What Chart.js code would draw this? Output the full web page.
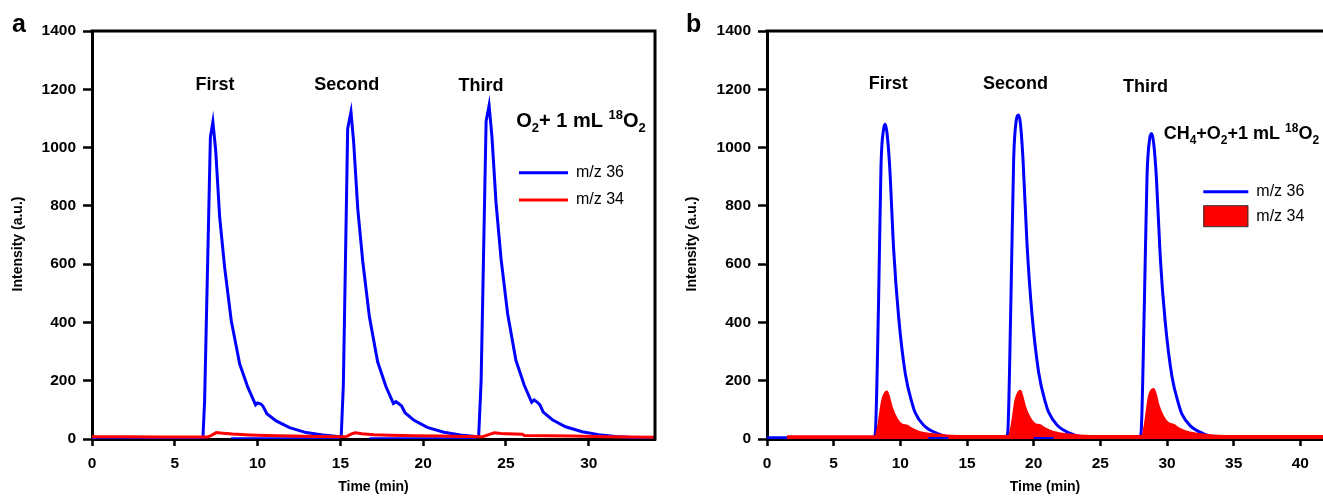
<!DOCTYPE html>
<html>
<head>
<meta charset="utf-8">
<script src="https://cdn.jsdelivr.net/npm/chart.js@4.4.1/dist/chart.umd.min.js"></script>
<style>
  html, body { margin: 0; padding: 0; background: #fff; }
  .wrap { position: relative; width: 1323px; height: 496px; overflow: hidden; }
  canvas { position: absolute; top: 0; }
  #chartA { left: 0; }
  #chartB { left: 668px; }
</style>
</head>
<body>
<div class="wrap">
  <canvas id="chartA" width="668" height="496"></canvas>
  <canvas id="chartB" width="655" height="496"></canvas>
</div>
<script>
const FONT = '"Liberation Sans", Arial, Helvetica, sans-serif';

// tick labels
const yTickValues = [0, 200, 400, 600, 800, 1000, 1200, 1400];
const xTickValuesA = [0, 5, 10, 15, 20, 25, 30];
const xTickValuesB = [0, 5, 10, 15, 20, 25, 30, 35, 40];

const peakLabels = ["First", "Second", "Third"];
const seriesLabels = ["m/z 36", "m/z 34"];

// panel a : O2 + 1 mL 18O2, m/z 36
const timeA36 = [0, 2, 4, 6, 6.7, 6.8, 7.15, 7.3, 7.47, 7.71, 8.01, 8.41, 8.92, 9.42, 9.88, 10.0, 10.2, 10.32, 10.56, 11.12, 11.93, 12.93, 13.94, 14.98,
  15.05, 15.18, 15.44, 15.64, 15.8, 16.05, 16.35, 16.75, 17.25, 17.75, 18.2, 18.35, 18.55, 18.7, 18.9, 19.45, 20.25, 21.25, 22.25, 23.3,
  23.35, 23.5, 23.8, 23.98, 24.15, 24.4, 24.7, 25.1, 25.6, 26.1, 26.55, 26.7, 26.9, 27.05, 27.25, 27.8, 28.6, 29.6, 30.6, 31.6, 32.6, 34];
const intensityA36 = [2, 1, 1, 2, 4, 130, 1036, 1088, 990, 761, 589, 406, 257, 176, 117, 124, 120, 113, 87, 62, 39, 22, 14, 8,
  8, 188, 1065, 1122, 1020, 790, 610, 420, 265, 180, 122, 128, 120, 113, 90, 64, 40, 23, 14, 8,
  8, 200, 1090, 1145, 1040, 810, 620, 430, 270, 185, 126, 134, 126, 117, 92, 66, 42, 25, 15, 9, 5, 3];
const timeA36Base = [8.4, 14.9, 15.0, 16.75, 23.2];
const intensityA36Base = [1, 1, null, 1, 1];

// panel a : m/z 34
const timeA34 = [0, 2, 4, 6, 7.0, 7.2, 7.5, 7.9, 8.5, 9.5, 10.5, 12, 13.5, 15, 15.4, 15.7, 15.9, 16.3, 17, 18, 19.5, 21, 22.5, 23.6,
  24.0, 24.3, 24.7, 25.5, 26.0, 26.1, 27.5, 29, 31, 32.5, 34];
const intensityA34 = [8, 8, 7, 7, 7, 12, 22, 20, 17, 14, 12, 10, 9, 8, 9, 18, 21, 18, 15, 13, 11, 10, 9, 8,
  16, 21, 19, 17, 16, 12, 11, 10, 8, 7, 6];

// panel b : CH4 + O2 + 1 mL 18O2, m/z 36
const timeB36 = [0, 1.5, 3, 5, 7, 8.0, 8.12, 8.37, 8.55, 8.75, 8.87, 9.0, 9.2, 9.5, 9.87, 10.37, 10.9, 11.12, 11.75, 12.75, 13.5, 14.5, 16, 17.9,
  18.05, 18.3, 18.5, 18.7, 18.85, 19.0, 19.2, 19.5, 19.87, 20.37, 20.9, 21.12, 21.75, 22.75, 23.5, 25, 27.9,
  28.05, 28.3, 28.5, 28.7, 28.85, 29.0, 29.2, 29.5, 29.87, 30.37, 30.9, 31.12, 31.75, 32.75, 33.5, 35, 38, 42];
const intensityB36 = [4, 4, 3, 3, 3, 4, 19, 477, 936, 1065, 1080, 1050, 936, 650, 420, 225, 120, 90, 47, 19, 8, 5, 4, 4,
  19, 490, 960, 1095, 1112, 1085, 960, 670, 430, 230, 122, 92, 48, 19, 8, 5, 4,
  19, 460, 900, 1030, 1048, 1015, 900, 620, 400, 215, 115, 85, 45, 18, 8, 4, 3, 3];
const timeB36Base = [12.1, 13.6, 13.7, 20.0, 21.5];
const intensityB36Base = [2, 2, null, 2, 2];

// panel b : m/z 34 (filled)
const timeB34 = [1.5, 4, 7, 8.1, 8.3, 8.62, 8.85, 9.0, 9.2, 9.37, 9.75, 10.12, 10.5, 10.87, 11.5, 12.75, 13.5, 15, 18,
  18.1, 18.3, 18.62, 18.85, 19.0, 19.2, 19.37, 19.75, 20.12, 20.5, 20.87, 21.5, 22.75, 23.5, 25, 28,
  28.1, 28.3, 28.62, 28.85, 29.0, 29.2, 29.37, 29.75, 30.12, 30.5, 30.87, 31.5, 32.75, 33.5, 35, 38, 42];
const intensityB34 = [10, 10, 10, 10, 40, 133, 160, 164, 140, 110, 70, 51, 47, 36, 24, 16, 13, 11, 11,
  11, 40, 135, 162, 166, 142, 112, 72, 52, 48, 37, 25, 16, 13, 11, 11,
  11, 45, 145, 170, 172, 150, 118, 76, 55, 50, 38, 26, 16, 13, 11, 11, 11];

const BLUE = "rgb(0, 0, 255)";
const RED = "rgb(255, 0, 0)";

const toPoints = (xs, ys) => xs.map((x, i) => ({ x, y: ys[i] }));

const drawRich = (ctx, parts, x, y, size) => {
  parts.forEach((p) => {
    const small = p.sub || p.sup;
    ctx.font = `bold ${small ? Math.round(size * 0.65) : size}px ${FONT}`;
    const dy = p.sub ? size * 0.25 : p.sup ? -size * 0.42 : 0;
    ctx.fillText(p.t, x, y + dy);
    x += ctx.measureText(p.t).width;
  });
};

const annotPlugin = {
  id: "annot",
  afterDraw(chart, args, opts) {
    const { ctx, chartArea: ca, scales } = chart;
    const sx = scales.x;
    const sy = scales.y;
    ctx.save();

    // frame
    ctx.strokeStyle = "#000";
    ctx.lineWidth = 3;
    ctx.beginPath();
    ctx.moveTo(ca.left - 1.5, ca.top);
    ctx.lineTo(ca.right, ca.top);
    if (opts.rightFrame) ctx.lineTo(ca.right, ca.bottom + 1.5);
    ctx.stroke();

    ctx.fillStyle = "#000";
    ctx.textAlign = "left";
    ctx.textBaseline = "alphabetic";
    ctx.font = `bold 25px ${FONT}`;
    ctx.fillText(opts.letter, opts.letterX, 32);

    // y title
    ctx.save();
    ctx.translate(opts.yTitleX, 244);
    ctx.rotate(-Math.PI / 2);
    ctx.textAlign = "center";
    ctx.textBaseline = "middle";
    ctx.font = `bold 14px ${FONT}`;
    ctx.fillText("Intensity (a.u.)", 0, 0);
    ctx.restore();

    // peak labels
    ctx.textAlign = "center";
    ctx.font = `bold 18px ${FONT}`;
    peakLabels.forEach((lab, i) => {
      const [t, v] = opts.peakAt[i];
      ctx.fillText(lab, sx.getPixelForValue(t), sy.getPixelForValue(v));
    });

    // condition title
    ctx.textAlign = "left";
    drawRich(ctx, opts.title, sx.getPixelForValue(opts.titleAt[0]), sy.getPixelForValue(opts.titleAt[1]), opts.titleSize);

    // legend
    const lg = opts.legend;
    ctx.font = `16px ${FONT}`;
    ctx.textBaseline = "middle";
    seriesLabels.forEach((lab, i) => {
      const yy = lg.y[i];
      if (lg.kinds[i] === "line") {
        ctx.strokeStyle = lg.colors[i];
        ctx.lineWidth = 3;
        ctx.beginPath();
        ctx.moveTo(lg.x, yy);
        ctx.lineTo(lg.x + lg.len, yy);
        ctx.stroke();
      } else {
        ctx.fillStyle = lg.colors[i];
        ctx.fillRect(lg.x, yy - 10.5, lg.len, 21);
        ctx.strokeStyle = "#333";
        ctx.lineWidth = 1;
        ctx.strokeRect(lg.x + 0.5, yy - 10.5, lg.len - 1, 21);
      }
      ctx.fillStyle = "#000";
      ctx.fillText(lab, lg.x + lg.len + 8, yy);
    });

    ctx.restore();
  },
};

const axisCommon = (ticksArr, fitFn, tickLength) => ({
  type: "linear",
  afterBuildTicks: (s) => { s.ticks = ticksArr.map((v) => ({ value: v })); },
  afterFit: fitFn,
  grid: { drawOnChartArea: false, tickLength, tickWidth: 2.5, tickColor: "#000" },
  border: { color: "#000", width: 3 },
  ticks: {
    color: "#000",
    font: { family: FONT, size: 15.5, weight: "bold" },
    padding: 8,
    maxRotation: 0,
    autoSkip: false,
    callback: (v) => String(v),
  },
});

const makeChart = (id, datasets, xTicks, xMax, yWidth, padRight, annot) => {
  const xAxis = axisCommon(xTicks, (s) => { s.height = 57; }, 7);
  xAxis.min = 0;
  xAxis.max = xMax;
  xAxis.title = { display: true, text: "Time (min)", color: "#000", font: { family: FONT, size: 14, weight: "bold" }, padding: { top: 0, bottom: 0 } };
  const yAxis = axisCommon(yTickValues, (s) => { s.width = yWidth; }, 9);
  yAxis.min = 0;
  yAxis.max = 1400;
  yAxis.ticks.padding = 7;

  return new Chart(document.getElementById(id), {
    type: "line",
    data: { datasets },
    options: {
      responsive: false,
      animation: false,
      layout: { padding: { top: 31, right: padRight, left: 0, bottom: 0 } },
      elements: { point: { radius: 0 } },
      scales: { x: xAxis, y: yAxis },
      plugins: { legend: { display: false }, tooltip: { enabled: false }, annot },
    },
    plugins: [annotPlugin],
  });
};

makeChart(
  "chartA",
  [
    { label: seriesLabels[1], data: toPoints(timeA34, intensityA34), borderColor: RED, borderWidth: 3, fill: false },
    { label: seriesLabels[0], data: toPoints(timeA36, intensityA36), borderColor: BLUE, borderWidth: 3, fill: false },
    { label: "base", data: toPoints(timeA36Base, intensityA36Base), borderColor: BLUE, borderWidth: 3, fill: false, spanGaps: false },
  ],
  xTickValuesA, 34, 92, 13,
  {
    letter: "a", letterX: 12, yTitleX: 18, rightFrame: true,
    peakAt: [[7.43, 1196], [15.38, 1196], [23.49, 1194]],
    title: [{ t: "O" }, { t: "2", sub: 1 }, { t: "+ 1 mL " }, { t: "18", sup: 1 }, { t: "O" }, { t: "2", sub: 1 }],
    titleAt: [25.62, 1070], titleSize: 20,
    legend: { x: 519, len: 49, y: [172.7, 200], kinds: ["line", "line"], colors: [BLUE, RED] },
  }
);

makeChart(
  "chartB",
  [
    { label: "base", data: toPoints(timeB36Base, intensityB36Base), borderColor: BLUE, borderWidth: 3, fill: false, spanGaps: false },
    { label: seriesLabels[1], data: toPoints(timeB34, intensityB34), borderColor: RED, backgroundColor: RED, borderWidth: 1.5, fill: "origin", cubicInterpolationMode: "monotone" },
    { label: seriesLabels[0], data: toPoints(timeB36, intensityB36), borderColor: BLUE, borderWidth: 3, fill: false, cubicInterpolationMode: "monotone" },
  ],
  xTickValuesB, 41.7, 99, 0,
  {
    letter: "b", letterX: 18, yTitleX: 24.5, rightFrame: false,
    peakAt: [[9.1, 1202], [18.63, 1202], [28.38, 1192]],
    title: [{ t: "CH" }, { t: "4", sub: 1 }, { t: "+O" }, { t: "2", sub: 1 }, { t: "+1 mL " }, { t: "18", sup: 1 }, { t: "O" }, { t: "2", sub: 1 }],
    titleAt: [29.75, 1028], titleSize: 18,
    legend: { x: 535.3, len: 45, y: [191.7, 216.2], kinds: ["line", "box"], colors: [BLUE, RED] },
  }
);
</script>
</body>
</html>
